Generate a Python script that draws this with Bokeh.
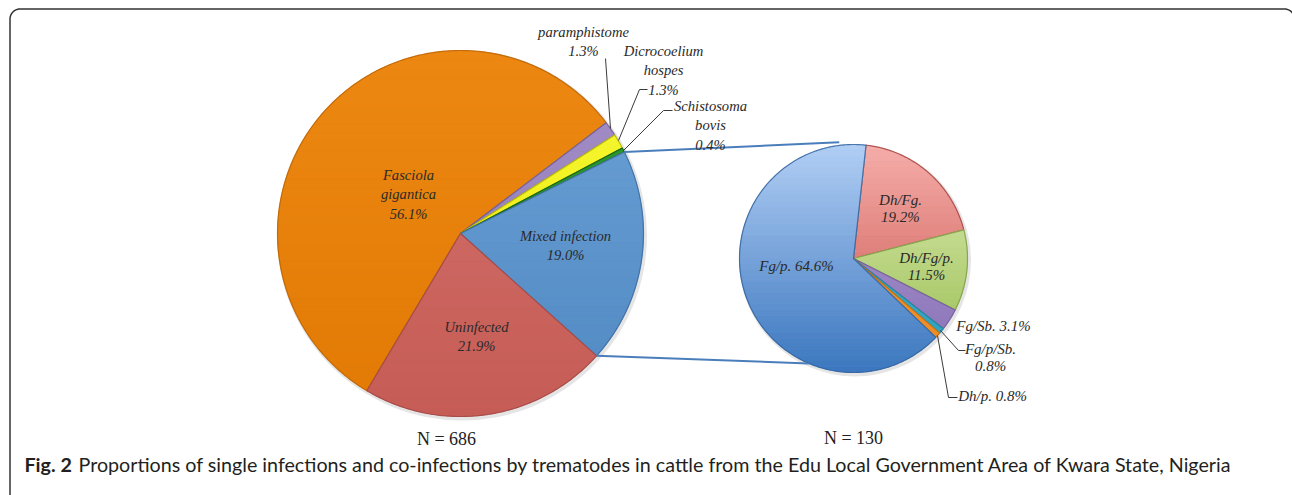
import numpy as np
from bokeh.plotting import figure
from bokeh.models import Range1d
from bokeh.embed import file_html
from bokeh.resources import INLINE
from bokeh.core.properties import value

# ---------------- data ----------------
main_names = ["Fasciola\ngigantica", "paramphistome", "Dicrocoelium\nhospes",
              "Schistosoma\nbovis", "Mixed infection", "Uninfected"]
main_values = [56.1, 1.3, 1.3, 0.4, 19.0, 21.9]
main_n = 686

mixed_names = ["Dh/Fg.", "Dh/Fg/p.", "Fg/Sb.", "Fg/p/Sb.", "Dh/p.", "Fg/p."]
mixed_values = [19.2, 11.5, 3.1, 0.8, 0.8, 64.6]
mixed_n = 130

caption_bold = "Fig. 2"
caption_text = ("Proportions of single infections and co-infections by trematodes in cattle "
                "from the Edu Local Government Area of Kwara State, Nigeria")

# ---------------- styles / layout ----------------
main_sep = ["\n", "\n", "\n", "\n", "\n", "\n"]
mixed_sep = ["\n", "\n", " ", "\n", " ", " "]

main_top = ["#EC8812", "#A590C8", "#FAFA3A", "#34A034", "#6CA2D6", "#D4726C"]
main_bot = ["#E27A04", "#8C76B2", "#E4E400", "#1C7A1C", "#5088C2", "#C65C56"]
main_edge = ["#B96306", "#6E5A94", "#B0B000", "#145A14", "#3B6A9E", "#9E4642"]

mixed_top = ["#F5AEAA", "#E0EFB8", "#AC98D2", "#52C2DA", "#F8A444", "#B2CFF5"]
mixed_bot = ["#C84E48", "#95BA4C", "#8A72B6", "#2A9CB8", "#EC8820", "#3A76BE"]
mixed_edge = ["#A0403C", "#7A9A40", "#6E5A94", "#22809A", "#C06A10", "#2F609A"]

W, H = 1292, 495


def Y(y):
    return H - y


L_CX, L_CY, L_R, L_START = 460, Y(233), 183, 210.8
R_CX, R_CY, R_R, R_START = 853, Y(258), 114, 6.3

main_label_pos = [(408, 194), (583, 41), (663, 70), (710, 125), (565, 245), (476, 336)]
mixed_label_pos = [(900, 208), (926, 266), (993, 325), (990, 357), (992, 395), (796, 265)]

TEXT_COL = "#2a2a2a"
SERIF = "Liberation Serif"

p = figure(width=W, height=H, output_backend="svg", toolbar_location=None,
           x_range=Range1d(0, W), y_range=Range1d(0, H), min_border=0)
p.xaxis.visible = False
p.yaxis.visible = False
p.xgrid.visible = False
p.ygrid.visible = False
p.outline_line_color = None
p.background_fill_color = "white"
p.border_fill_color = "white"


def hex2rgb(h):
    h = h.lstrip("#")
    return np.array([int(h[i:i + 2], 16) for i in (0, 2, 4)], dtype=float)


def mix(c1, c2, t):
    c = hex2rgb(c1) * (1 - t) + hex2rgb(c2) * t
    return "#%02x%02x%02x" % tuple(int(round(v)) for v in c)


def pt(cx, cy, r, th):
    a = np.radians(th)
    return cx + r * np.sin(a), cy + r * np.cos(a)


def sector(cx, cy, r, t1, t2):
    n = max(4, int(abs(t2 - t1) * 1.5))
    th = np.linspace(t1, t2, n)
    a = np.radians(th)
    xs = [cx] + list(cx + r * np.sin(a))
    ys = [cy] + list(cy + r * np.cos(a))
    return xs, ys


def clip_half(poly, yv, keep_above):
    out = []
    n = len(poly)
    for i in range(n):
        cur = poly[i]
        prv = poly[i - 1]
        cin = cur[1] >= yv if keep_above else cur[1] <= yv
        pin = prv[1] >= yv if keep_above else prv[1] <= yv
        if cin:
            if not pin:
                t = (yv - prv[1]) / (cur[1] - prv[1])
                out.append((prv[0] + t * (cur[0] - prv[0]), yv))
            out.append(cur)
        elif pin:
            t = (yv - prv[1]) / (cur[1] - prv[1])
            out.append((prv[0] + t * (cur[0] - prv[0]), yv))
    return out


def draw_pie(cx, cy, r, start, vals, tops, bots, edges, nb=40):
    # soft shadow
    p.circle(x=[cx + 1.5], y=[cy - 2], radius=r + 2, fill_color="#000000",
             fill_alpha=0.10, line_color=None)
    total = float(sum(vals))
    angs = [start]
    for v in vals:
        angs.append(angs[-1] + 360.0 * v / total)
    bands = np.linspace(cy - r, cy + r, nb + 1)
    for i, v in enumerate(vals):
        t1, t2 = angs[i], angs[i + 1]
        xs, ys = sector(cx, cy, r, t1, t2)
        p.patch(xs, ys, fill_color=mix(tops[i], bots[i], 0.5), line_color=None)
        poly = list(zip(xs, ys))
        bx, by, bc = [], [], []
        for k in range(nb):
            lo, hi = bands[k], bands[k + 1]
            q = clip_half(poly, lo, True)
            if len(q) < 3:
                continue
            q = clip_half(q, hi, False)
            if len(q) < 3:
                continue
            tfrac = 1 - ((lo + hi) / 2 - (cy - r)) / (2 * r)
            bx.append([a for a, b in q])
            by.append([b for a, b in q])
            bc.append(mix(tops[i], bots[i], tfrac))
        if bx:
            p.patches(bx, by, fill_color=bc, line_color=bc, line_width=0.6)
        p.patch(xs + [xs[0]], ys + [ys[0]], fill_color=None, line_color=edges[i],
                line_width=1.2, line_alpha=0.8)
    return angs


l_angs = draw_pie(L_CX, L_CY, L_R, L_START, main_values, main_top, main_bot, main_edge)
r_angs = draw_pie(R_CX, R_CY, R_R, R_START, mixed_values, mixed_top, mixed_bot, mixed_edge)

# connectors from the "Mixed infection" slice to the second pie
mi = main_names.index("Mixed infection")
a_top, a_bot = l_angs[mi], l_angs[mi + 1]
x1, y1 = pt(L_CX, L_CY, L_R, a_top)
x2, y2 = pt(R_CX, R_CY, R_R + 3, -7)
x3, y3 = pt(L_CX, L_CY, L_R, a_bot)
x4, y4 = pt(R_CX, R_CY, R_R, 203)
p.line([x1, x2], [y1, y2], line_color="#4A7EBB", line_width=2)
p.line([x3, x4], [y3, y4], line_color="#4A7EBB", line_width=2)

# labels main pie
main_txt = ["%s%s%.1f%%" % (n, s, v) for n, s, v in zip(main_names, main_sep, main_values)]
p.text(x=[q[0] for q in main_label_pos], y=[Y(q[1]) for q in main_label_pos], text=main_txt,
       text_font=value(SERIF), text_font_style="italic", text_font_size="14.6px",
       text_color=TEXT_COL, text_align="center", text_baseline="middle",
       text_line_height=1.2)

mixed_txt = ["%s%s%.1f%%" % (n, s, v) for n, s, v in zip(mixed_names, mixed_sep, mixed_values)]
p.text(x=[q[0] for q in mixed_label_pos], y=[Y(q[1]) for q in mixed_label_pos], text=mixed_txt,
       text_font=value(SERIF), text_font_style="italic", text_font_size="15px",
       text_color=TEXT_COL, text_align="center", text_baseline="middle",
       text_line_height=1.1)

# leader lines
leaders = [
    [(605, 58), (610, 128)],
    [(647, 89), (639, 89), (618, 140)],
    [(672, 110), (663, 110), (623, 150)],
    [(940, 330), (958, 350), (965, 350)],
    [(937, 335), (948, 397), (957, 397)],
]
p.multi_line(xs=[[a for a, b in L] for L in leaders], ys=[[Y(b) for a, b in L] for L in leaders],
             line_color="#3a3a3a", line_width=1)

# N labels
p.text(x=[446, 853], y=[Y(438), Y(437)], text=["N = %d" % main_n, "N = %d" % mixed_n],
       text_font=value(SERIF), text_font_size="18px", text_color="#222222",
       text_align="center", text_baseline="middle")

# caption
p.text(x=[24], y=[Y(464)], text=[caption_bold], text_font=value("Lato"),
       text_font_style="bold", text_font_size="19.7px", text_color="#231F20",
       text_align="left", text_baseline="middle")
p.text(x=[78], y=[Y(464)], text=[caption_text], text_font=value("Lato"),
       text_font_size="19.7px", text_color="#231F20",
       text_align="left", text_baseline="middle")

# frame border with rounded top corners (right side runs off the page)
rr = 10
thl = np.linspace(180, 90, 12)
thr = np.linspace(90, 0, 12)
xl, xr, yt = 9.5, 1294, Y(8.5)
bx = ([xl] + list(xl + rr + rr * np.cos(np.radians(thl)))
      + list(xr - rr + rr * np.cos(np.radians(thr))) + [xr])
by = ([Y(H)] + list(yt - rr + rr * np.sin(np.radians(thl)))
      + list(yt - rr + rr * np.sin(np.radians(thr))) + [Y(H)])
p.line(bx, by, line_color="#333333", line_width=1.5)

open("out.html", "w").write(file_html(p, INLINE))
